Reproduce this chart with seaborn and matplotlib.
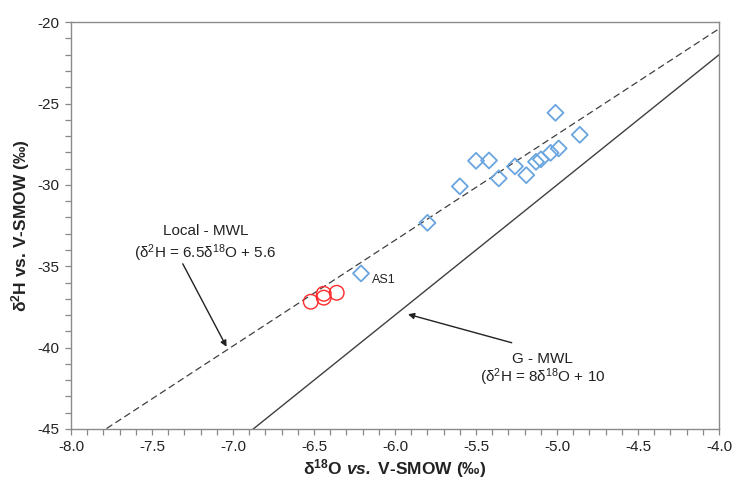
import numpy as np
import pandas as pd
import matplotlib
matplotlib.use("Agg")
import matplotlib.pyplot as plt
import seaborn as sns

# Isotope measurements (per mil vs. V-SMOW)
water_d18O = [-6.21, -5.80, -5.60, -5.50, -5.42, -5.36, -5.26, -5.19,
              -5.13, -5.10, -5.04, -4.99, -5.01, -4.86]
water_d2H = [-35.44, -32.33, -30.09, -28.52, -28.50, -29.60, -28.86, -29.40,
             -28.58, -28.43, -28.03, -27.76, -25.57, -26.92]

red_d18O = [-6.52, -6.44, -6.44, -6.36]
red_d2H = [-37.18, -36.69, -36.93, -36.63]

# Meteoric water lines: slope, intercept
lmwl_slope, lmwl_intercept = 6.5, 5.6
gmwl_slope, gmwl_intercept = 8.0, 10.0

x_ticks = [-8.0, -7.5, -7.0, -6.5, -6.0, -5.5, -5.0, -4.5, -4.0]
y_ticks = [-45, -40, -35, -30, -25, -20]

sns.set_theme(style="white")
plt.rcParams["font.family"] = ["Liberation Sans", "DejaVu Sans"]
plt.rcParams["mathtext.fontset"] = "custom"
plt.rcParams["mathtext.rm"] = "Liberation Sans"
plt.rcParams["mathtext.it"] = "Liberation Sans:italic"
plt.rcParams["mathtext.bf"] = "Liberation Sans:bold"
plt.rcParams["mathtext.bfit"] = "Liberation Sans:bold:italic"

fig = plt.figure(figsize=(7.34, 4.82), dpi=100)
ax = fig.add_axes([0.0967, 0.110, 0.883, 0.844])

line_color = "#3f3f3f"
x_line = np.array([-8.0, -4.0])
lines = pd.DataFrame({
    "x": np.concatenate([x_line, x_line]),
    "y": np.concatenate([lmwl_slope * x_line + lmwl_intercept,
                         gmwl_slope * x_line + gmwl_intercept]),
    "line": ["Local - MWL"] * 2 + ["G - MWL"] * 2,
})
sns.lineplot(data=lines[lines["line"] == "Local - MWL"], x="x", y="y",
             ax=ax, color=line_color, lw=0.9, linestyle=(0, (5.5, 3)), legend=False)
sns.lineplot(data=lines[lines["line"] == "G - MWL"], x="x", y="y",
             ax=ax, color=line_color, lw=1.0, legend=False)

blue = pd.DataFrame({"d18O": water_d18O, "d2H": water_d2H})
red = pd.DataFrame({"d18O": red_d18O, "d2H": red_d2H})
sns.scatterplot(data=blue, x="d18O", y="d2H", ax=ax, marker="D", s=66,
                facecolor="none", edgecolor="#6aa5e0", linewidth=1.3, zorder=5)
sns.scatterplot(data=red, x="d18O", y="d2H", ax=ax, marker="o", s=110,
                facecolor="none", edgecolor="#ff2a2a", linewidth=1.0, zorder=5)

ax.text(-6.14, -35.85, "AS1", fontsize=9, color="#222222", ha="left", va="center")

# Line labels with arrows
ax.text(-7.17, -32.85, "Local - MWL", fontsize=11, ha="center", va="center",
        color="#222222")
ax.text(-7.17, -34.2, r"(δ$^{2}$H = 6.5δ$^{18}$O + 5.6", fontsize=11,
        ha="center", va="center", color="#222222")
ax.annotate("", xy=(-7.04, -39.95), xytext=(-7.31, -34.85),
            arrowprops=dict(arrowstyle="-|>", color="#222222", lw=1.0,
                            mutation_scale=9, shrinkA=0, shrinkB=0))

ax.text(-5.09, -40.7, "G - MWL", fontsize=11, ha="center", va="center",
        color="#222222")
ax.text(-5.09, -41.8, r"(δ$^{2}$H = 8δ$^{18}$O + 10", fontsize=11,
        ha="center", va="center", color="#222222")
ax.annotate("", xy=(-5.92, -37.95), xytext=(-5.28, -39.7),
            arrowprops=dict(arrowstyle="-|>", color="#222222", lw=1.0,
                            mutation_scale=9, shrinkA=0, shrinkB=0))

ax.set_xlim(-8.0, -4.0)
ax.set_ylim(-45, -20)
ax.set_xticks(x_ticks)
ax.set_xticklabels([f"{v:.1f}" for v in x_ticks])
ax.set_yticks(y_ticks)
ax.set_yticklabels([str(v) for v in y_ticks])
ax.set_xticks(np.arange(-8.0, -3.99, 0.1), minor=True)
ax.set_yticks(np.arange(-45, -19, 1), minor=True)
ax.tick_params(axis="both", which="both", direction="out", length=4,
               width=0.9, color="#888888", labelsize=11, labelcolor="#222222")
ax.tick_params(axis="both", which="major", pad=4)
ax.xaxis.set_ticks_position("bottom")
ax.yaxis.set_ticks_position("left")
for sp in ax.spines.values():
    sp.set_visible(True)
    sp.set_color("#8a8a8a")
    sp.set_linewidth(1.0)

ax.set_xlabel(r"δ$^{\mathbf{18}}$O $\mathbfit{vs.}$ V-SMOW (‰)", fontsize=12.5,
              fontweight="bold", color="#222222", labelpad=2)
ax.set_ylabel(r"δ$^{\mathbf{2}}$H vs. V-SMOW (‰)", fontsize=12.5,
              fontweight="bold", color="#222222", labelpad=4)

fig.savefig("out.png", dpi=100, facecolor="white")
